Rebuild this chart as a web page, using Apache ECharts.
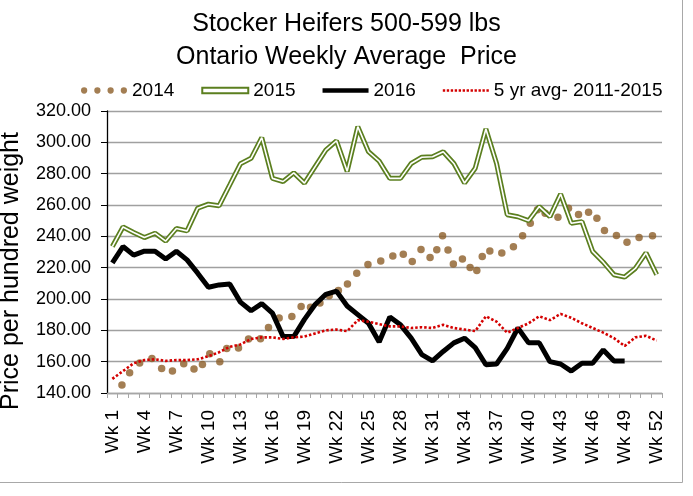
<!DOCTYPE html>
<html>
<head>
<meta charset="utf-8">
<title>Stocker Heifers 500-599 lbs</title>
<script src="https://cdn.jsdelivr.net/npm/echarts@6/dist/echarts.min.js"></script>
<style>
html, body { margin: 0; padding: 0; background: #fff; }
#chart { width: 693px; height: 496px; }
</style>
</head>
<body>
<div id="chart"></div>
<script>
"use strict";

var weeks = ['Wk 1','Wk 2','Wk 3','Wk 4','Wk 5','Wk 6','Wk 7','Wk 8','Wk 9','Wk 10',
    'Wk 11','Wk 12','Wk 13','Wk 14','Wk 15','Wk 16','Wk 17','Wk 18','Wk 19','Wk 20',
    'Wk 21','Wk 22','Wk 23','Wk 24','Wk 25','Wk 26','Wk 27','Wk 28','Wk 29','Wk 30',
    'Wk 31','Wk 32','Wk 33','Wk 34','Wk 35','Wk 36','Wk 37','Wk 38','Wk 39','Wk 40',
    'Wk 41','Wk 42','Wk 43','Wk 44','Wk 45','Wk 46','Wk 47','Wk 48','Wk 49','Wk 50',
    'Wk 51','Wk 52'];

// 2014 was reported on its own dates, so each dot has a week position
var wk2014 = [1.90, 2.62, 3.56, 4.71, 5.62, 6.63, 7.69, 8.65, 9.44, 10.13,
    11.07, 11.72, 12.82, 13.76, 14.88, 15.63, 16.63, 17.82, 18.69, 19.57,
    20.45, 21.32, 22.18, 23.03, 23.90, 24.95, 26.15, 27.28, 28.26, 29.10,
    29.92, 30.77, 31.40, 31.94, 32.45, 32.95, 33.80, 34.52, 35.15, 35.66,
    36.37, 37.49, 38.58, 39.44, 40.16, 40.83, 41.55, 42.75, 43.74, 44.68,
    45.62, 46.40, 47.11, 48.23, 49.22, 50.35, 51.61];
var price2014 = [145.1, 153.0, 159.1, 162.1, 155.7, 154.0, 158.7, 155.3, 158.2, 165.1,
    160.0, 168.4, 168.7, 174.4, 174.6, 181.8, 187.8, 188.8, 195.2, 194.8,
    197.4, 202.0, 205.5, 209.5, 216.5, 222.1, 224.2, 227.5, 228.6, 223.9,
    231.6, 226.5, 231.4, 240.3, 231.2, 222.3, 225.6, 220.1, 218.2, 227.2,
    230.6, 229.3, 233.4, 240.4, 248.4, 256.9, 254.8, 252.2, 258.0, 253.9,
    255.3, 251.5, 243.7, 240.5, 236.2, 239.3, 240.4];

var price2015 = [233.5, 246, 242.5, 239.2, 242, 237, 245, 243.5, 258, 260.5,
    259.5, 272.8, 286.3, 289.8, 303, 277, 275, 280.5, 274, 284.5,
    295, 301, 281.5, 310, 294, 288, 277, 277, 286.5, 290.5,
    290.8, 294, 286.5, 274, 283.5, 308.5, 286.5, 253.8, 252.5, 250,
    259, 252.6, 267, 248.4, 249.4, 230.4, 223.5, 215.5, 214, 219.5,
    229.5, 215.5];

var price2016 = [223, 233.5, 228, 230.5, 230.5, 225.5, 230.5, 225, 216.5, 207.5,
    209, 209.5, 198, 192.5, 197, 191, 176, 176, 187, 196.5,
    203, 205, 195.5, 190, 184.5, 172.5, 188.5, 183.5, 175, 164.5,
    160.5, 166.5, 172, 175, 169, 158, 158.5, 168.5, 181.5, 172,
    172, 160, 158.5, 154, 159, 159, 167.5, 160.5, 160.5];

var avg5yr = [149, 154, 159, 161, 161.5, 160.5, 161, 161, 161.5, 163.5,
    166, 169.5, 171, 174.5, 175.5, 175.5, 174.5, 175.5, 176, 178,
    180, 180.5, 179.5, 186.5, 185.5, 184, 182.5, 182.5, 181.5, 182,
    181.5, 183.5, 181.5, 180.5, 179.5, 189, 185.5, 178.5, 181.5, 184.5,
    189, 186.5, 190.5, 188, 184.5, 181.5, 178.5, 175, 170, 175.5,
    176.5, 173.5];

var yMin = 140, yMax = 320, yStep = 20;

var FONT = '"Liberation Sans", Arial, sans-serif';
var BROWN = '#8C5E28', GREEN = '#5B7F1F', RED = '#D40000';

var pts2014 = [];
for (var i = 0; i < wk2014.length; i++) {
    pts2014.push([wk2014[i], price2014[i]]);
}

// legend icons
var dotsIcon = 'path://';
for (var d = 0; d < 4; d++) {
    var cx = 3.2 + d * 13.5;
    dotsIcon += 'M' + (cx - 3.2) + ',3.2a3.2,3.2 0 1,0 6.4,0a3.2,3.2 0 1,0 -6.4,0z ';
}
var dashIcon = 'path://';
for (var k = 0; k < 12; k++) {
    var x0 = k * 4.2;
    dashIcon += 'M' + x0 + ',0h2.5v2.5h-2.5z ';
}

var dom = document.getElementById('chart');
var myChart = echarts.init(dom, null, {renderer: 'canvas'});

var option = {
    animation: false,
    backgroundColor: '#fff',
    title: {
        text: 'Stocker Heifers 500-599 lbs\nOntario Weekly Average  Price',
        left: 'center',
        top: 3,
        textStyle: {fontFamily: FONT, fontSize: 25, fontWeight: 'normal', lineHeight: 33, color: '#000'}
    },
    legend: {
        top: 76,
        left: 76,
        itemWidth: 46,
        itemHeight: 8,
        itemGap: 27,
        selectedMode: false,
        textStyle: {fontFamily: FONT, fontSize: 19, color: '#000'},
        data: [
            {name: '2014', icon: dotsIcon, itemStyle: {color: BROWN, borderWidth: 0}},
            {name: '2015', icon: 'path://M0,0h50v6h-50z', itemStyle: {color: '#fff', borderColor: GREEN, borderWidth: 2}},
            {name: '2016', icon: 'path://M0,0h50v5h-50z', itemStyle: {color: '#000', borderWidth: 0}},
            {name: '5 yr avg- 2011-2015', icon: dashIcon, itemStyle: {color: RED, borderWidth: 0}}
        ]
    },
    grid: {left: 107, right: 31, top: 111, bottom: 103, outerBoundsMode: 'none'},
    xAxis: [{
        type: 'category',
        data: weeks,
        boundaryGap: true,
        axisLine: {lineStyle: {color: '#A6A6A6', width: 1.3}},
        axisTick: {show: true, interval: 0, length: 5, lineStyle: {color: '#A6A6A6'}},
        axisLabel: {interval: 2, rotate: 90, fontFamily: FONT, fontSize: 19, color: '#000', margin: 17},
        splitLine: {show: false}
    }, {
        type: 'value',
        min: 0.5,
        max: 52.5,
        show: false
    }],
    yAxis: {
        type: 'value',
        min: yMin,
        max: yMax,
        interval: yStep,
        name: 'Price per hundred weight',
        nameLocation: 'middle',
        nameGap: 83,
        nameTextStyle: {fontFamily: FONT, fontSize: 25, color: '#000', padding: [0, 38, 0, 0]},
        axisLine: {show: true, lineStyle: {color: '#000', width: 1.3}},
        axisTick: {show: true, length: 6, lineStyle: {color: '#000'}},
        axisLabel: {
            fontFamily: FONT, fontSize: 18, color: '#000', margin: 16,
            formatter: function (v) { return v.toFixed(2); }
        },
        splitLine: {lineStyle: {color: '#A0A0A0', width: 1.3}}
    },
    series: [{
        name: '2014',
        type: 'scatter',
        xAxisIndex: 1,
        data: pts2014,
        symbol: 'circle',
        symbolSize: 7.5,
        itemStyle: {color: BROWN},
        z: 2
    }, {
        name: '2015',
        type: 'line',
        data: price2015,
        symbol: 'none',
        lineStyle: {color: GREEN, width: 5},
        itemStyle: {color: GREEN},
        z: 3
    }, {
        // white core of the double line
        name: '2015 inner',
        type: 'line',
        data: price2015,
        symbol: 'none',
        silent: true,
        lineStyle: {color: '#fff', width: 1.6},
        z: 3
    }, {
        name: '2016',
        type: 'line',
        data: price2016,
        symbol: 'none',
        lineStyle: {color: '#000', width: 5},
        itemStyle: {color: '#000'},
        z: 4
    }, {
        name: '5 yr avg- 2011-2015',
        type: 'line',
        data: avg5yr,
        symbol: 'none',
        lineStyle: {color: RED, width: 2.6, type: [2.5, 2]},
        itemStyle: {color: RED},
        z: 5
    }],
    graphic: [{
        type: 'line',
        shape: {x1: 682.5, y1: 0, x2: 682.5, y2: 482.5},
        style: {stroke: '#A8A8A8', lineWidth: 1}
    }, {
        type: 'line',
        shape: {x1: 0, y1: 482.5, x2: 682.5, y2: 482.5},
        style: {stroke: '#A8A8A8', lineWidth: 1}
    }]
};

myChart.setOption(option, true);
</script>
</body>
</html>
